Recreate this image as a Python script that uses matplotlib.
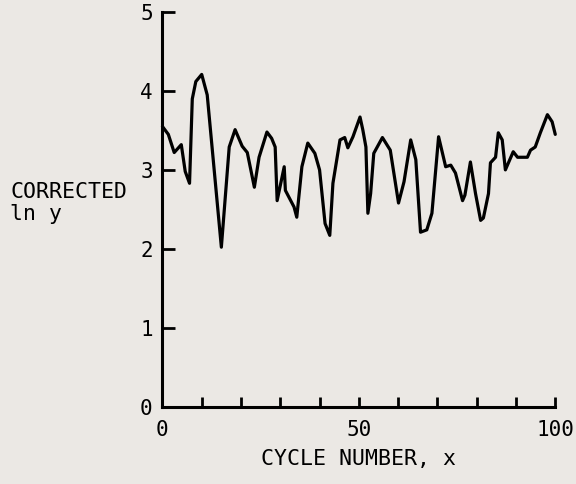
import matplotlib

matplotlib.use("Agg")

import matplotlib.pyplot as plt  # noqa: E402
from matplotlib.ticker import MultipleLocator  # noqa: E402

# corrected ln y against cycle number
cycles = [
    0, 1.5, 3.0, 4.8, 5.8, 6.9, 7.6, 8.5, 10.0, 11.4, 15.0, 17.0,
    18.5, 20.3, 21.6, 23.4, 24.6, 26.6, 27.8, 28.7, 29.2, 31.0, 31.3, 33.5,
    34.2, 35.5, 37.0, 38.8, 40.0, 41.4, 42.6, 43.4, 45.2, 46.4, 47.2, 48.5,
    50.3, 51.0, 51.8, 52.3, 53.0, 53.8, 56.0, 58.0, 60.1, 61.5, 63.2, 64.5,
    65.7, 67.3, 68.6, 70.3, 72.1, 73.4, 74.6, 76.4, 77.0, 78.4, 79.7, 81.0,
    81.7, 83.0, 83.5, 84.8, 85.5, 86.5, 87.3, 89.3, 90.4, 92.9, 93.7, 94.9,
    96.2, 98.0, 99.2, 100.0,
]
ln_y = [
    3.55, 3.45, 3.22, 3.32, 2.98, 2.83, 3.90, 4.12, 4.21, 3.95, 2.02, 3.29,
    3.51, 3.30, 3.22, 2.78, 3.16, 3.48, 3.40, 3.29, 2.61, 3.04, 2.74, 2.53,
    2.40, 3.04, 3.34, 3.21, 3.00, 2.32, 2.17, 2.83, 3.38, 3.41, 3.28, 3.42,
    3.67, 3.51, 3.29, 2.45, 2.70, 3.21, 3.41, 3.25, 2.58, 2.85, 3.38, 3.13,
    2.21, 2.24, 2.45, 3.42, 3.04, 3.06, 2.96, 2.61, 2.68, 3.10, 2.70, 2.36,
    2.39, 2.70, 3.09, 3.16, 3.47, 3.38, 3.00, 3.23, 3.16, 3.16, 3.25, 3.29,
    3.47, 3.70, 3.61, 3.45,
]

bg = "#ebe8e4"
mono = "DejaVu Sans Mono"

fig = plt.figure(figsize=(5.76, 4.84), dpi=100, facecolor=bg)
ax = fig.add_axes([0.282, 0.16, 0.682, 0.815], facecolor=bg)

ax.plot(cycles, ln_y, color="black", linewidth=2.3, solid_joinstyle="round",
        solid_capstyle="round", clip_on=False)

ax.set_xlim(0, 100)
ax.set_ylim(0, 5)
for side in ("top", "right"):
    ax.spines[side].set_visible(False)
for side in ("left", "bottom"):
    ax.spines[side].set_linewidth(2.2)

ax.xaxis.set_major_locator(MultipleLocator(50))
ax.xaxis.set_minor_locator(MultipleLocator(10))
ax.yaxis.set_major_locator(MultipleLocator(1))
ax.tick_params(axis="x", which="both", direction="in", length=7, width=2,
               pad=10, labelsize=15)
ax.tick_params(axis="y", direction="in", length=9.5, width=2, pad=7,
               labelsize=15)
for lab in ax.get_xticklabels() + ax.get_yticklabels():
    lab.set_fontfamily(mono)

ax.set_xlabel("CYCLE NUMBER, x", fontsize=15.5, family=mono, labelpad=6)
fig.text(10 / 576, 1 - 203 / 484, "CORRECTED\nln y", fontsize=15.5,
         family=mono, ha="left", va="center", linespacing=1.15)

fig.savefig("out.png", dpi=100, facecolor=bg)
